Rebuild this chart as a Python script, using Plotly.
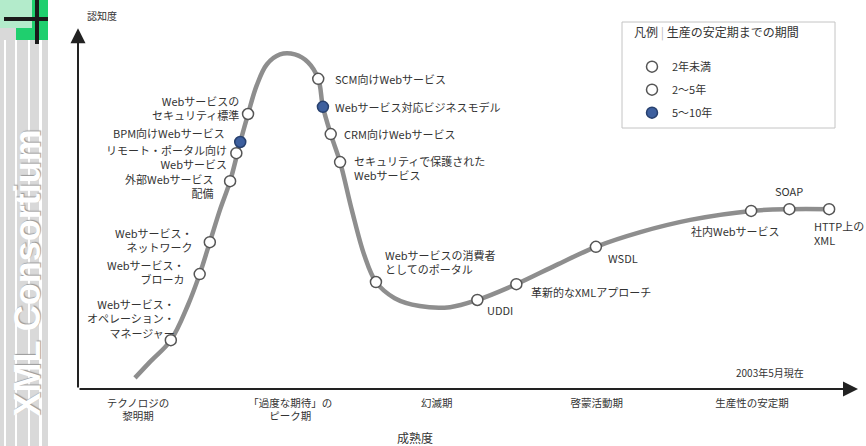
import plotly.graph_objects as go

# ---------------- data (maturity 0-100 on x, visibility 0-100 on y) ----------------
curve_x = [7.3, 9.2, 11.9, 14.1, 15.6, 16.9, 18.2, 19.5, 20.8, 21.8, 22.9, 24.2, 25.9, 27.8,
           29.5, 30.8, 31.4, 32.4, 33.6, 35.1, 36.7, 38.2, 40.6, 43.8, 47.7, 51.2, 56.2, 61.3,
           66.4, 72.1, 78.5, 86.3, 91.2, 96.3]
curve_y = [3.1, 7.5, 13.6, 23.4, 32.0, 40.9, 49.9, 57.9, 68.8, 76.6, 84.5, 90.4, 93.2, 93.2,
           91.0, 86.4, 78.6, 71.0, 63.2, 49.9, 37.3, 29.8, 25.3, 23.1, 22.8, 24.8, 29.2, 34.5,
           39.6, 43.7, 47.1, 49.6, 50.1, 50.1]

tech_names = [
    "Webサービス・<br>オペレーション・<br>マネージャー",
    "Webサービス・<br>ブローカ",
    "Webサービス・<br>ネットワーク",
    "外部Webサービス<br>配備",
    "リモート・ポータル向け<br>Webサービス",
    "BPM向けWebサービス",
    "Webサービスの<br>セキュリティ標準",
    "SCM向けWebサービス",
    "Webサービス対応ビジネスモデル",
    "CRM向けWebサービス",
    "セキュリティで保護された<br>Webサービス",
    "Webサービスの消費者<br>としてのポータル",
    "UDDI",
    "革新的なXMLアプローチ",
    "WSDL",
    "社内Webサービス",
    "SOAP",
    "HTTP上の<br>XML",
]
tech_x = [11.9, 15.6, 16.9, 19.5, 20.3, 20.8, 21.8, 30.8, 31.4, 32.4, 33.6, 38.2, 51.2, 56.2,
          66.4, 86.3, 91.2, 96.3]
tech_y = [13.6, 32.0, 40.9, 57.9, 65.7, 68.8, 76.6, 86.4, 78.6, 71.0, 63.2, 29.8, 24.8, 29.2,
          39.6, 49.6, 50.1, 50.1]
tech_class = ["2～5年", "2～5年", "2～5年", "2～5年", "2～5年", "5～10年", "2～5年",
              "2～5年", "5～10年", "2～5年", "2～5年", "2～5年", "2年未満", "2～5年",
              "2年未満", "2年未満", "2年未満", "2年未満"]

legend_classes = ["2年未満", "2～5年", "5～10年"]

phase_x = [7.7, 27.2, 46.0, 66.5, 86.4]
phase_labels = ["テクノロジの<br>黎明期", "「過度な期待」の<br>ピーク期", "幻滅期", "啓蒙活動期", "生産性の安定期"]

# ---------------- styles ----------------
FONT = "Noto Sans CJK JP"
TXT = "#333333"
W, H = 866, 446
PL, PR, PT, PB = 78, 858, 30, 389  # plot area in pixels

class_style = {
    "2年未満": dict(color="white", line=dict(color="#555555", width=1.5)),
    "2～5年": dict(color="white", line=dict(color="#555555", width=1.5)),
    "5～10年": dict(color="#3d5f9e", line=dict(color="#27406e", width=1.5)),
}

# label placement: (xanchor, dx px, dy px (down +))
label_place = [
    ("right", 6, -22), ("right", -13, -2), ("right", -15, -2), ("right", -14, 5),
    ("right", -7, 4), ("right", -13, -9), ("right", -7, -6),
    ("left", 15, 0), ("left", 10, 0), ("left", 11, 0), ("left", 12, 6),
    ("left", 7, -20), ("left", 8, 10), ("left", 13, 8), ("left", 10, 11),
    ("center", -16, 20), ("center", 0, -18), ("left", -17, 24),
]

def px(x):
    return x / W

def py(y):
    return 1 - y / H

fig = go.Figure()

fig.add_trace(go.Scatter(
    x=curve_x, y=curve_y, mode="lines",
    line=dict(color="#8e8e8e", width=4.5, shape="spline", smoothing=1.0),
    hoverinfo="skip", showlegend=False,
))

for i, cls in enumerate(legend_classes):
    idx = [k for k, c in enumerate(tech_class) if c == cls]
    fig.add_trace(go.Scatter(
        x=[tech_x[k] for k in idx], y=[tech_y[k] for k in idx],
        text=[tech_names[k].replace("<br>", "") for k in idx],
        mode="markers", name=cls, legendgroup=cls,
        marker=dict(size=11, symbol="circle", **class_style[cls]),
        hovertemplate="%{text}<extra></extra>",
    ))

annotations = []
for i, name in enumerate(tech_names):
    anc, dx, dy = label_place[i]
    annotations.append(dict(
        x=tech_x[i], y=tech_y[i], xref="x", yref="y", text=name, showarrow=False,
        xanchor=anc, yanchor="middle", align=anc,
        xshift=dx, yshift=-dy, font=dict(family=FONT, size=11, color=TXT),
    ))

# axes arrows
annotations.append(dict(x=100, y=0, ax=0, ay=0, xref="x", yref="y", axref="x", ayref="y",
                        text="", showarrow=True, arrowhead=2, arrowsize=1.5, arrowwidth=2,
                        arrowcolor="#222222"))
annotations.append(dict(x=0, y=100.5, ax=0, ay=0, xref="x", yref="y", axref="x", ayref="y",
                        text="", showarrow=True, arrowhead=2, arrowsize=1.5, arrowwidth=2,
                        arrowcolor="#222222"))

# other texts
annotations += [
    dict(x=px(102), y=py(16), xref="paper", yref="paper", text="認知度", showarrow=False,
         xanchor="center", yanchor="middle", font=dict(family=FONT, size=10, color=TXT)),
    dict(x=px(415), y=py(437), xref="paper", yref="paper", text="成熟度", showarrow=False,
         xanchor="center", yanchor="middle", font=dict(family=FONT, size=12, color=TXT)),
    dict(x=px(770), y=py(372), xref="paper", yref="paper", text="2003年5月現在", showarrow=False,
         xanchor="center", yanchor="middle", font=dict(family=FONT, size=10, color=TXT)),
    dict(x=px(27), y=py(128), xref="paper", yref="paper", text="XML Consortium",
         showarrow=False, textangle=-90, xanchor="center", yanchor="top",
         font=dict(family="Liberation Sans", size=36, color="white", weight="bold",
                   shadow="1px 1px 1px #9a9a9a")),
]

shapes = [
    dict(type="rect", xref="paper", yref="paper", x0=px(0), x1=px(48), y0=py(446), y1=py(0),
         fillcolor="#d9d9d9", line=dict(width=0), layer="below"),
]
for a, b in [(4, 6), (15, 17), (28, 30), (39, 42)]:
    shapes.append(dict(type="rect", xref="paper", yref="paper", x0=px(a), x1=px(b),
                       y0=py(446), y1=py(40), fillcolor="white", line=dict(width=0), layer="below"))
shapes += [
    dict(type="rect", xref="paper", yref="paper", x0=px(16), x1=px(48), y0=py(40), y1=py(0),
         fillcolor="#1fcf6e", line=dict(width=0), layer="below"),
    dict(type="rect", xref="paper", yref="paper", x0=px(0), x1=px(32), y0=py(28), y1=py(0),
         fillcolor="#b3ebcb", line=dict(width=0), layer="below"),
    dict(type="rect", xref="paper", yref="paper", x0=px(4), x1=px(48), y0=py(21), y1=py(17),
         fillcolor="#1a1a1a", line=dict(width=0), layer="below"),
    dict(type="rect", xref="paper", yref="paper", x0=px(35), x1=px(39), y0=py(44), y1=py(0),
         fillcolor="#1a1a1a", line=dict(width=0), layer="below"),
    # legend frame
    dict(type="rect", xref="paper", yref="paper", x0=px(622), x1=px(835), y0=py(128), y1=py(22),
         fillcolor="white", line=dict(color="#c4c4c4", width=1), layer="below"),
]

fig.update_layout(
    width=W, height=H,
    margin=dict(l=0, r=0, t=0, b=0),
    paper_bgcolor="white", plot_bgcolor="rgba(0,0,0,0)",
    font=dict(family=FONT, color=TXT),
    xaxis=dict(domain=[PL / W, PR / W], range=[0, 100], showgrid=False, zeroline=False,
               showline=False, ticks="", tickvals=phase_x, ticktext=phase_labels,
               tickfont=dict(family=FONT, size=10.5, color=TXT), ticklabelstandoff=6,
               fixedrange=True),
    yaxis=dict(domain=[1 - PB / H, 1 - PT / H], range=[0, 100], visible=False, fixedrange=True),
    showlegend=True,
    legend=dict(x=px(632), y=py(21), xanchor="left", yanchor="top", bgcolor="rgba(0,0,0,0)",
                borderwidth=0,
                title=dict(text="凡例 <span style='color:#bbbbbb'>|</span> 生産の安定期までの期間<br> ",
                           font=dict(family=FONT, size=12, color=TXT)),
                font=dict(family=FONT, size=11, color=TXT), tracegroupgap=4, indentation=0),
    annotations=annotations,
    shapes=shapes,
)

fig.write_html("out.html")
